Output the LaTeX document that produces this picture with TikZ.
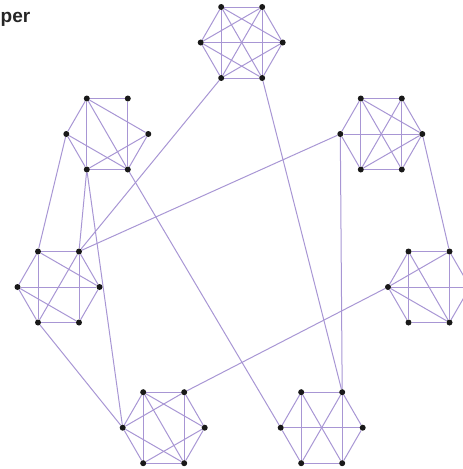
\documentclass[tikz,border=0pt]{standalone}
\usepackage{fontspec}
\setmainfont{Liberation Sans}
\definecolor{lav}{RGB}{168,150,212}
\pgfdeclarelayer{bg}
\pgfsetlayers{bg,main}
\tikzset{
  dot/.style={circle,fill=black!90,inner sep=0pt,minimum size=6pt},
  ln/.style={draw=lav,line width=1pt},
  title/.style={font=\bfseries\fontsize{19}{19}\selectfont,text=black!85,inner sep=0pt,anchor=base west}
}
\newcommand\hexclus[3]{%
  \node[dot] (#1tl) at (#2-20.5,#3-35.5) {};
  \node[dot] (#1tr) at (#2+20.5,#3-35.5) {};
  \node[dot] (#1l)  at (#2-41,#3) {};
  \node[dot] (#1r)  at (#2+41,#3) {};
  \node[dot] (#1bl) at (#2-20.5,#3+35.5) {};
  \node[dot] (#1br) at (#2+20.5,#3+35.5) {};
}
\begin{document}
\begin{tikzpicture}[x=1pt,y=-1pt]
\useasboundingbox (0,0) rectangle (463,469);
\node[title] (ttl) at (0.5,22) {per};
\hexclus{A}{241.7}{42.5}
\hexclus{B}{107.3}{134}
\hexclus{C}{381.3}{134}
\hexclus{D}{58.5}{287}
\hexclus{E}{429}{287}
\hexclus{F}{163.7}{427.7}
\hexclus{G}{321.7}{427.7}
\begin{pgfonlayer}{bg}
% cluster A
\foreach \a/\b in {tl/tr,tr/r,r/br,br/bl,bl/l,l/tl,tl/bl,tr/br,l/r,tl/r,tr/l,tl/br,tr/bl,l/br,r/bl}
  \draw[ln] (A\a) -- (A\b);
% cluster B
\foreach \a/\b in {tl/tr,tl/l,tl/bl,tr/br,bl/br,tl/r,tl/br,l/br,r/bl,r/br,l/bl}
  \draw[ln] (B\a) -- (B\b);
% cluster C
\foreach \a/\b in {tl/tr,tl/l,tl/bl,tr/br,tr/r,l/r,tl/r,tl/br,tr/bl,bl/r,bl/br,l/bl,r/br}
  \draw[ln] (C\a) -- (C\b);
% cluster D
\foreach \a/\b in {tl/tr,tl/l,tr/r,l/r,tl/bl,tr/br,bl/br,l/bl,tl/r,tr/bl,l/br,r/br}
  \draw[ln] (D\a) -- (D\b);
% cluster E
\foreach \a/\b in {tl/tr,tl/bl,tr/br,l/tr,l/r,l/br,l/tl,l/bl,bl/br,tl/br,tr/r,r/br}
  \draw[ln] (E\a) -- (E\b);
% cluster F
\foreach \a/\b in {tl/tr,tl/l,tl/bl,tr/br,tr/r,r/br,bl/br,l/bl,tl/r,tl/br,l/tr,l/br,bl/r}
  \draw[ln] (F\a) -- (F\b);
% cluster G
\foreach \a/\b in {tl/tr,tl/l,tl/bl,tr/br,tr/r,l/r,l/bl,r/br,bl/br,tl/br,tr/bl}
  \draw[ln] (G\a) -- (G\b);
% links between clusters
\draw[ln] (Abl) -- (Dtr);
\draw[ln] (Cl) -- (Dtr);
\draw[ln] (Bbr) -- (Gl);
\draw[ln] (Abr) -- (Gtr);
\draw[ln] (Cl) -- (Gtr);
\draw[ln] (Cr) -- (Etr);
\draw[ln] (Ftr) -- (El);
\draw[ln] (Bl) -- (Dtl);
\draw[ln] (Bbl) -- (Dtr);
\draw[ln] (Bbl) -- (Fl);
\draw[ln] (Dbl) -- (Fl);
\end{pgfonlayer}
\end{tikzpicture}
\end{document}
